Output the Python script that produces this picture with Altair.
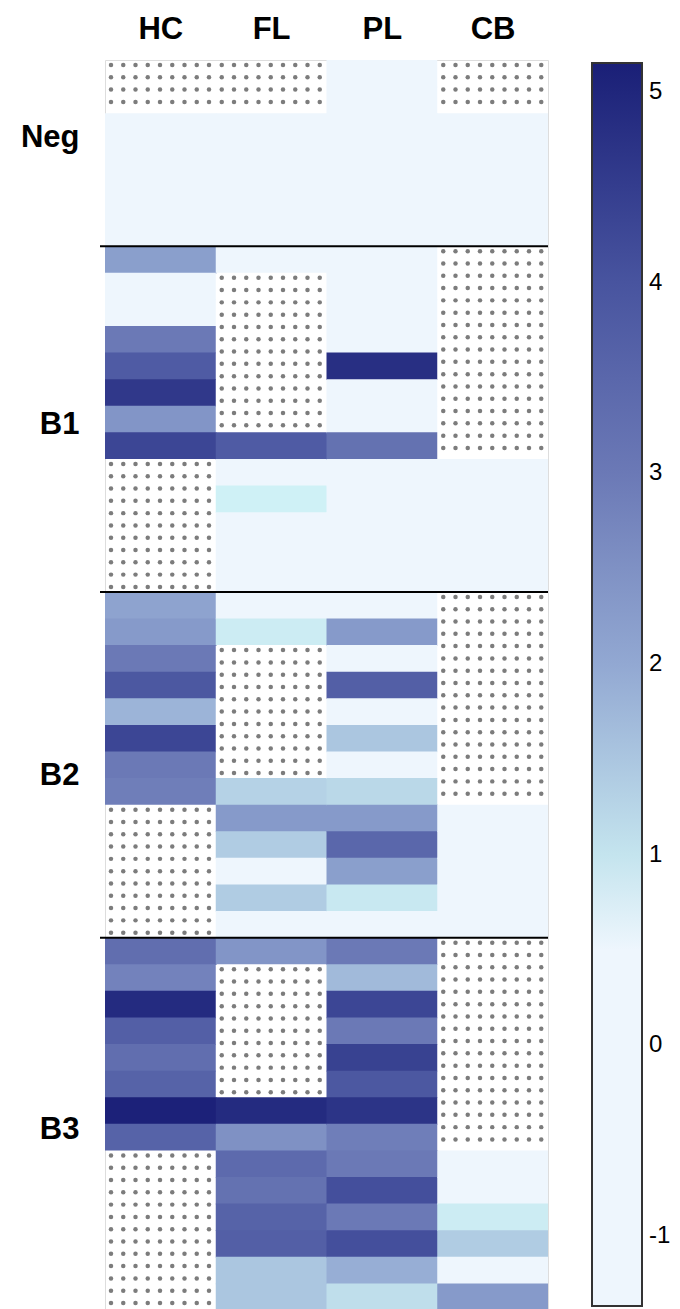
import json
import altair as alt
import pandas as pd

# ---------------- data ----------------
columns = ["HC", "FL", "PL", "CB"]
groups = ["Neg", "B1", "B2", "B3"]
group_sizes = [7, 13, 13, 14]
group_label_pos = [2.9, 13.7, 26.9, 40.2]   # row position of each group label
legend_ticks = [-1, 0, 1, 2, 3, 4, 5]
color_min, color_max = -1.367, 5.152

N = None  # missing (dotted) cell
hc = [N, N, 0, 0, 0, 0, 0,
      2.2, 0, 0, 3.0, 3.8, 4.6, 2.4, 4.3, N, N, N, N, N,
      2.1, 2.3, 3.0, 3.9, 1.8, 4.3, 3.0, 2.9, N, N, N, N, N,
      3.3, 2.8, 4.9, 3.7, 3.3, 3.6, 5.1, 3.6, N, N, N, N, N, N]
fl = [N, N, 0, 0, 0, 0, 0,
      0, N, N, N, N, N, N, 3.8, 0, 0.7, 0, 0, 0,
      0, 0.8, N, N, N, N, N, 1.3, 2.3, 1.4, 0, 1.4, 0,
      2.4, N, N, N, N, N, 4.9, 2.5, 3.4, 3.2, 3.6, 3.7, 1.5, 1.5]
pl = [0, 0, 0, 0, 0, 0, 0,
      0, 0, 0, 0, 4.8, 0, 0, 3.2, 0, 0, 0, 0, 0,
      0, 2.3, 0, 3.7, 0, 1.5, 0, 1.2, 2.3, 3.5, 2.2, 0.9, 0,
      3.0, 1.7, 4.3, 3.0, 4.4, 3.9, 4.7, 2.9, 3.0, 4.1, 3.0, 4.1, 1.9, 1.1]
cb = [N, N, 0, 0, 0, 0, 0,
      N, N, N, N, N, N, N, N, 0, 0, 0, 0, 0,
      N, N, N, N, N, N, N, N, 0, 0, 0, 0, 0,
      N, N, N, N, N, N, N, N, 0, 0, 0.8, 1.4, 0, 2.3]
values = {"HC": hc, "FL": fl, "PL": pl, "CB": cb}

# ---------------- layout / style ----------------
W = 443
ROW_PX = 26.6
n_rows = sum(group_sizes)
H = round(n_rows * ROW_PX)
COL_PX = W / len(columns)

DOTS_PER_COL = 9
DOT_X0, DOT_DX = 6 / COL_PX, 12.25 / COL_PX
DOT_Y0, DOT_DY = 5 / ROW_PX, 12.3 / ROW_PX
SEAM_Y = 0.8 / ROW_PX   # tiny overlap into a filled neighbour to hide anti-alias seams
SEAM_X = 0.8 / COL_PX

FONT = "Liberation Sans"

# ---------------- tables built from the arrays ----------------
cells = []
dots = []
for ci, c in enumerate(columns):
    col_vals = values[c]
    nxt_col = values[columns[ci + 1]] if ci + 1 < len(columns) else None
    for r, v in enumerate(col_vals):
        if v is not None:
            oy = SEAM_Y if (r + 1 < len(col_vals) and col_vals[r + 1] is not None) else 0
            ox = SEAM_X if (nxt_col is not None and nxt_col[r] is not None) else 0
            cells.append({"col": c, "x0": ci, "x1": ci + 1 + ox, "y0": r, "y1": r + 1 + oy,
                          "value": v})
    # dotted pattern for runs of missing cells
    r = 0
    while r < len(col_vals):
        if col_vals[r] is None:
            s = r
            while r < len(col_vals) and col_vals[r] is None:
                r += 1
            run = r - s
            j = 0
            while DOT_Y0 + j * DOT_DY < run - 0.1:
                for i in range(DOTS_PER_COL):
                    dots.append({"x": ci + DOT_X0 + i * DOT_DX, "y": s + DOT_Y0 + j * DOT_DY})
                j += 1
        else:
            r += 1

bounds = []
acc = 0
for g in group_sizes[:-1]:
    acc += g
    bounds.append(acc)

cells_df = pd.DataFrame(cells)
dots_df = pd.DataFrame(dots)
rules_df = pd.DataFrame({"y": bounds})

x_scale = alt.Scale(domain=[0, len(columns)], nice=False, zero=False)
y_scale = alt.Scale(domain=[0, n_rows], nice=False, zero=False, reverse=True)

color_domain = [color_min, 0.5, 0.52, 1, 2, 3, 4, color_max]
color_range = ["#eef6fd", "#eef6fd", "#d6f8fb", "#c4e4ee", "#92a8d2",
               "#6b79b6", "#48549f", "#1a1f77"]
color_scale = alt.Scale(domain=color_domain, range=color_range, interpolate="rgb", clamp=True)

col_expr = json.dumps(columns) + "[floor(datum.value)]"
grp_expr = ""
for b, g in zip(bounds, groups[:-1]):
    grp_expr += f"datum.value < {b} ? '{g}' : "
grp_expr += f"'{groups[-1]}'"


def x_axis():
    return alt.Axis(orient="top", values=[i + 0.5 for i in range(len(columns))], labelExpr=col_expr,
                    ticks=False, tickSize=0, domain=False, grid=False, title=None,
                    labelFontSize=31, labelFontWeight="bold", labelFont=FONT, labelColor="black",
                    labelPadding=22, labelBaseline="alphabetic", labelAngle=0, labelFlush=False,
                    labelOverlap=False)


def y_axis():
    return alt.Axis(values=group_label_pos, labelExpr=grp_expr,
                    ticks=False, tickSize=0, domain=False, grid=False, title=None,
                    labelFontSize=31, labelFontWeight="bold", labelFont=FONT, labelColor="black",
                    labelPadding=26, labelAlign="right", labelBaseline="middle", labelFlush=False,
                    labelOverlap=False)


legend = alt.Legend(orient="none", legendX=487, legendY=3, direction="vertical", type="gradient",
                    gradientLength=1243, gradientThickness=50,
                    gradientStrokeColor="#333333", gradientStrokeWidth=2,
                    values=legend_ticks, labelExpr="datum.value + ''",
                    labelFontSize=24, labelFont=FONT, labelColor="black",
                    labelOffset=7, title=None, labelOverlap=False, padding=0)

rects = alt.Chart(cells_df).mark_rect().encode(
    x=alt.X("x0:Q", scale=x_scale, axis=x_axis()),
    x2="x1:Q",
    y=alt.Y("y0:Q", scale=y_scale, axis=y_axis()),
    y2="y1:Q",
    color=alt.Color("value:Q", scale=color_scale, legend=legend),
)

dot_layer = alt.Chart(dots_df).mark_circle(size=20, color="#7c7c7c", opacity=1).encode(
    x=alt.X("x:Q", scale=x_scale, axis=x_axis()),
    y=alt.Y("y:Q", scale=y_scale, axis=y_axis()),
)

rules = alt.Chart(rules_df).mark_rule(color="black", strokeWidth=2).encode(
    y=alt.Y("y:Q", scale=y_scale, axis=y_axis()),
    x=alt.value(-5),
    x2=alt.value(W),
)

chart = alt.layer(rects, dot_layer, rules).properties(
    width=W, height=H,
    autosize=alt.AutoSizeParams(type="none"),
    padding={"left": 97, "top": 52, "right": 124, "bottom": 0},
).configure_view(stroke=None).configure(background="white")

chart.save("out.html", embed_options={"renderer": "svg", "actions": False})
